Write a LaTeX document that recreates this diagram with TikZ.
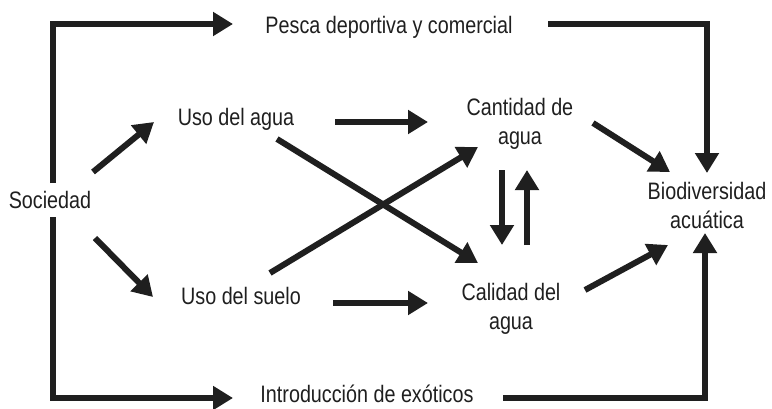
\documentclass[tikz,border=0pt]{standalone}
\usepackage{fontspec}
\setmainfont{Liberation Sans}[FakeStretch=0.83]
\usetikzlibrary{arrows.meta}
\begin{document}
\begin{tikzpicture}[x=1pt,y=-1pt,
  lbl/.style={font=\fontsize{23.8}{28.5}\selectfont, inner sep=0pt, outer sep=0pt, align=center, text=black!88},
  conn/.style={line width=6pt, draw=black!88, line join=miter},
  arr/.style={conn, -{Triangle[length=20pt,width=23pt]}}]
\useasboundingbox (0,0) rectangle (772,408);
% labels
\node[lbl, anchor=base] (soc)   at (50,208)  {Sociedad};
\node[lbl, anchor=base] (pesca) at (389,33)  {Pesca deportiva y comercial};
\node[lbl, anchor=base] (intro) at (367,402) {Introducción de exóticos};
\node[lbl, anchor=base] (agua)  at (236,125) {Uso del agua};
\node[lbl, anchor=base] (suelo) at (241,304) {Uso del suelo};
\node[lbl, anchor=base] (cant)  at (520,144) {Cantidad de\\agua};
\node[lbl, anchor=base] (cal)   at (511,329) {Calidad del\\agua};
\node[lbl, anchor=base] (bio)   at (707,228) {Biodiversidad\\acuática};
% connector end points
\coordinate (socT) at (53,183);
\coordinate (socB) at (53,217);
\coordinate (pescaW) at (233,24);
\coordinate (pescaE) at (548,24);
\coordinate (introW) at (233,398);
\coordinate (introE) at (503,398);
\coordinate (bioN) at (707,173);
\coordinate (bioS) at (705,233);
\coordinate (socNE) at (93,172);
\coordinate (socSE) at (95,238);
\coordinate (aguaW) at (154,122);
\coordinate (sueloW) at (153,297);
\coordinate (aguaE) at (335,122);
\coordinate (aguaSE) at (277,139);
\coordinate (sueloE) at (333,303);
\coordinate (sueloNE) at (270,273);
\coordinate (cantW) at (428,122);
\coordinate (cantSW) at (478,147);
\coordinate (cantE) at (593,123);
\coordinate (cantS1) at (502,170);
\coordinate (cantS2) at (527,170);
\coordinate (calW) at (428,303);
\coordinate (calNW) at (478,263);
\coordinate (calN1) at (502,245);
\coordinate (calN2) at (527,245);
\coordinate (calE) at (585,290);
\coordinate (bioNW) at (670,172);
\coordinate (bioSW) at (668,245);
% connectors
\draw[arr] (socT) |- (pescaW);
\draw[arr] (socB) |- (introW);
\draw[arr] (pescaE) -| (bioN);
\draw[arr] (introE) -| (bioS);
\draw[arr] (socNE) -- (aguaW);
\draw[arr] (socSE) -- (sueloW);
\draw[arr] (aguaE) -- (cantW);
\draw[arr] (sueloE) -- (calW);
\draw[arr] (aguaSE) -- (calNW);
\draw[arr] (sueloNE) -- (cantSW);
\draw[arr] (cantS1) -- (calN1);
\draw[arr] (calN2) -- (cantS2);
\draw[arr] (cantE) -- (bioNW);
\draw[arr] (calE) -- (bioSW);
\end{tikzpicture}
\end{document}
